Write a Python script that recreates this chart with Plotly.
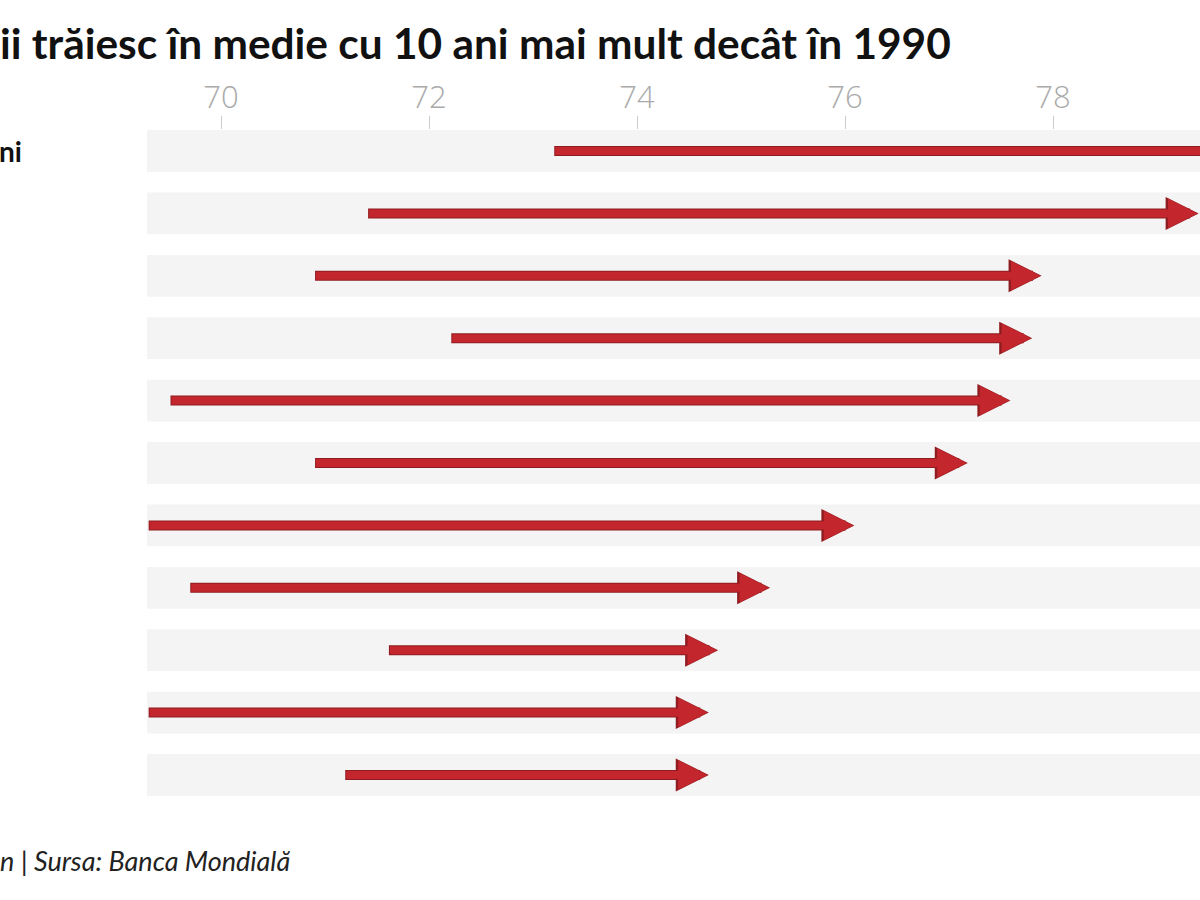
import plotly.graph_objects as go

# Data (life expectancy, years): 1990 -> 2019
row_labels = ["ni", "", "", "", "", "", "", "", "", "", ""]
start_1990 = [73.19, 71.40, 70.89, 72.20, 69.50, 70.89, 69.29, 69.69, 71.60, 69.29, 71.18]
end_2019 = [80.60, 79.40, 77.89, 77.80, 77.59, 77.18, 76.09, 75.28, 74.78, 74.69, 74.69]
tick_values = [70, 72, 74, 76, 78, 80]
tick_text = ["70", "72", "74", "76", "78", "80"]

title_text = "ii trăiesc în medie cu 10 ani mai mult decât în 1990"
footer_text = "n | Sursa: Banca Mondială"

W, H = 1200, 900
ML, MR, MT, MB = 147, 0, 130, 94
plot_w = W - ML - MR
plot_h = H - MT - MB
x_lo = 70 - (221 - ML) / 104.0
x_hi = x_lo + plot_w / 104.0
row_px = 62.4
y_top = -(151 - MT) / row_px
y_bot = y_top + plot_h / row_px

RED = "#c4262d"
DARK = "#8f1c20"
BAND = "#f4f4f4"

fig = go.Figure()
# invisible trace to set up the axes
fig.add_trace(go.Scatter(x=start_1990, y=list(range(len(start_1990))), mode="markers",
                         marker=dict(opacity=0), hoverinfo="skip", showlegend=False))

shapes = []
for i in range(len(start_1990)):
    shapes.append(dict(type="rect", xref="paper", yref="y", x0=0, x1=1,
                       y0=i - 0.335, y1=i + 0.335, fillcolor=BAND,
                       line=dict(width=0), layer="below"))

annotations = []
for i, (s, e) in enumerate(zip(start_1990, end_2019)):
    # darker outline underneath
    annotations.append(dict(x=e, y=i, ax=s, ay=i, xref="x", yref="y",
                            axref="x", ayref="y", text="", showarrow=True,
                            arrowhead=2, arrowsize=0.66, arrowwidth=10,
                            arrowcolor=DARK, standoff=0, startstandoff=0))
    annotations.append(dict(x=e, y=i, ax=s, ay=i, xref="x", yref="y",
                            axref="x", ayref="y", text="", showarrow=True,
                            arrowhead=2, arrowsize=0.74, arrowwidth=8,
                            arrowcolor=RED, standoff=1, startstandoff=1))

for i, lab in enumerate(row_labels):
    if lab:
        annotations.append(dict(x=-ML / plot_w, y=i, xref="paper", yref="y",
                                text="<b>" + lab + "</b>", showarrow=False,
                                xanchor="left", yanchor="middle", xshift=-3,
                                font=dict(family="Lato", size=28, color="#111")))

annotations.append(dict(x=-ML / plot_w, y=(H - MB - 860) / plot_h,
                        xref="paper", yref="paper", text="<i>" + footer_text + "</i>",
                        showarrow=False, xanchor="left", yanchor="middle", xshift=-2,
                        font=dict(family="Lato", size=27, color="#222")))

fig.update_layout(
    width=W, height=H,
    margin=dict(l=ML, r=MR, t=MT, b=MB, pad=0),
    paper_bgcolor="white", plot_bgcolor="white",
    title=dict(text="<b>" + title_text + "</b>", x=0, xref="container", xanchor="left",
               y=1 - 44 / H, yanchor="middle", pad=dict(l=0),
               font=dict(family="Lato", size=42.4, color="#111")),
    xaxis=dict(range=[x_lo, x_hi], side="top", tickvals=tick_values, ticktext=tick_text,
               ticks="outside", ticklen=13, tickwidth=1, tickcolor="#cccccc",
               ticklabelstandoff=-4,
               tickfont=dict(family="Open Sans", size=31, color="#aaaaaa", weight=300),
               showgrid=False, zeroline=False, showline=False),
    yaxis=dict(range=[y_bot, y_top], visible=False, showgrid=False, zeroline=False),
    shapes=shapes, annotations=annotations, showlegend=False,
)

fig.write_html("out.html", config={"displayModeBar": False},
               post_script="document.body.style.margin='0';")
